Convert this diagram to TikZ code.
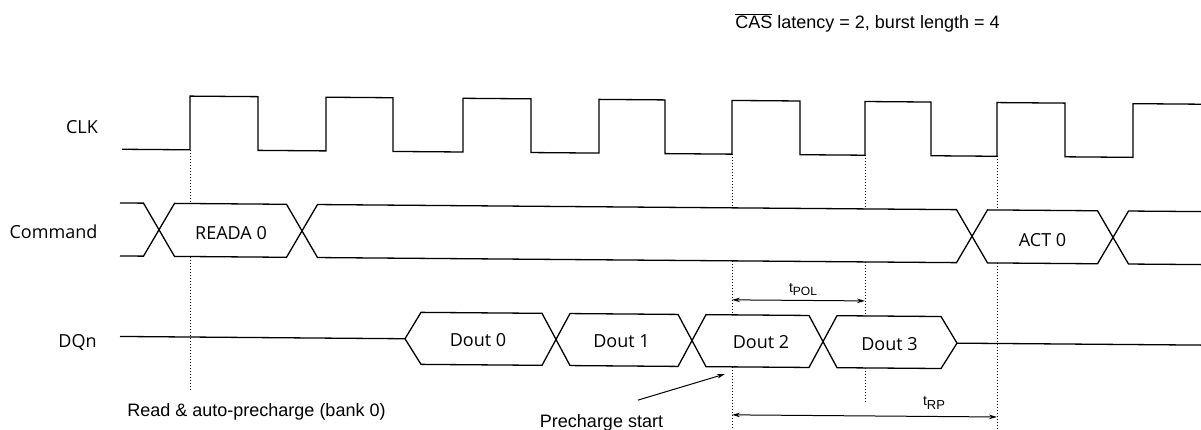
\documentclass[tikz,border=0pt]{standalone}
\usepackage{fontspec}
\setmainfont{Liberation Sans}
\newfontfamily\sigfont{Open Sans}
\usetikzlibrary{arrows.meta}
\begin{document}
\begin{tikzpicture}[x=1pt,y=-1pt,
  sig/.style={line width=1.3pt, line join=miter},
  guide/.style={line width=1pt, dash pattern=on 1pt off 2pt},
  lbl/.style={font=\sigfont\fontsize{18}{20}\selectfont, anchor=base, inner sep=0pt},
  ann/.style={font=\fontsize{18}{20}\selectfont, anchor=base, inner sep=0pt},
  dimarrow/.style={line width=1pt, {Stealth[length=8pt,width=4.5pt]}-{Stealth[length=8pt,width=4.5pt]}},
  ptr/.style={line width=1pt, -{Stealth[length=8pt,width=4.5pt]}}]
\fill[white] (0,0) rectangle (1201,430);
\useasboundingbox (0,0) rectangle (1201,430);
\begin{scope}[yslant=-0.008]
% levels
\def\ch{94.6}\def\cl{148.3}
\def\bt{202}\def\bb{255}
\def\dt{309}\def\db{361}\def\dm{335.5}
% CLK
\draw[sig] (122,\cl) -- (190,\cl) -- (190,\ch) -- (258,\ch) -- (258,\cl) -- (326,\cl) -- (326,\ch) -- (393,\ch) -- (393,\cl)
  -- (463,\cl) -- (463,\ch) -- (531,\ch) -- (531,\cl) -- (599,\cl) -- (599,\ch) -- (665,\ch) -- (665,\cl)
  -- (732,\cl) -- (732,\ch) -- (800,\ch) -- (800,\cl) -- (865,\cl) -- (865,\ch) -- (931,\ch) -- (931,\cl)
  -- (997,\cl) -- (997,\ch) -- (1065,\ch) -- (1065,\cl) -- (1133,\cl) -- (1133,\ch) -- (1205,\ch);
% Command bus
\draw[sig] (120,\bt) -- (143.5,\bt) -- (174.5,\bb) -- (286.5,\bb) -- (317.5,\bt) -- (956.5,\bt) -- (987.5,\bb) -- (1097.5,\bb) -- (1128.5,\bt) -- (1205,\bt);
\draw[sig] (120,\bb) -- (143.5,\bb) -- (174.5,\bt) -- (286.5,\bt) -- (317.5,\bb) -- (956.5,\bb) -- (987.5,\bt) -- (1097.5,\bt) -- (1128.5,\bb) -- (1205,\bb);
% DQn bus
\draw[sig] (120,\dm) -- (405,\dm) -- (421,\dt) -- (542,\dt) -- (570,\db) -- (678,\db) -- (706,\dt) -- (809,\dt) -- (837,\db) -- (941,\db) -- (957,\dm) -- (1205,\dm);
\draw[sig] (405,\dm) -- (421,\db) -- (542,\db) -- (570,\dt) -- (678,\dt) -- (706,\db) -- (809,\db) -- (837,\dt) -- (941,\dt) -- (957,\dm);
% guides
\draw[guide] (190,\cl) -- (190,\bt) (190,\bb) -- (190,388.5);
\draw[guide] (732,\cl) -- (732,\bt) (732,\bb) -- (732,\dt) (732,\db) -- (732,440);
\draw[guide] (865,\cl) -- (865,\bt) (865,\bb) -- (865,\dt) (865,\db) -- (865,395);
\draw[guide] (997,\cl) -- (997,\bt) (997,\bb) -- (997,440);
% labels
\node[lbl] (clklbl) at (82,133.3) {CLK};
\node[lbl] (cmdlbl) at (53.5,237.9) {Command};
\node[lbl] (dqlbl) at (77.5,346.7) {DQn};
\node[lbl] (reada) at (231,237.5) {READA 0};
\node[lbl] (act) at (1042.5,237.7) {ACT 0};
\node[lbl] (d0) at (478,342.9) {Dout 0};
\node[lbl] (d1) at (621.5,342.9) {Dout 1};
\node[lbl] (d2) at (761,342.9) {Dout 2};
\node[lbl] (d3) at (889.5,342.9) {Dout 3};
\node[ann] (title) at (867.5,21.4) {$\overline{\mbox{CAS}}$ latency = 2, burst length = 4};
\node[ann] (rap) at (256.5,414.7) {Read \& auto-precharge (bank 0)};
\node[ann] (pcs) at (601.5,422.2) {Precharge start};
\node[ann, font=\fontsize{14}{14}\selectfont] (tpol) at (803,286) {t\raisebox{-3pt}{\fontsize{12}{12}\selectfont POL}};
\node[ann, font=\fontsize{14}{14}\selectfont] (trp) at (934,398) {t\raisebox{-4pt}{\fontsize{13}{13}\selectfont RP}};
% dimension arrows
\coordinate (pa) at (732,294);
\coordinate (pb) at (865,294);
\coordinate (ra) at (732,409);
\coordinate (rb) at (997,409);
\draw[dimarrow] (pa) -- (pb);
\draw[dimarrow] (ra) -- (rb);
\coordinate (ps0) at (638,395);
\coordinate (ps1) at (725,368.2);
\draw[ptr] (ps0) -- (ps1);
\end{scope}
\end{tikzpicture}
\end{document}
